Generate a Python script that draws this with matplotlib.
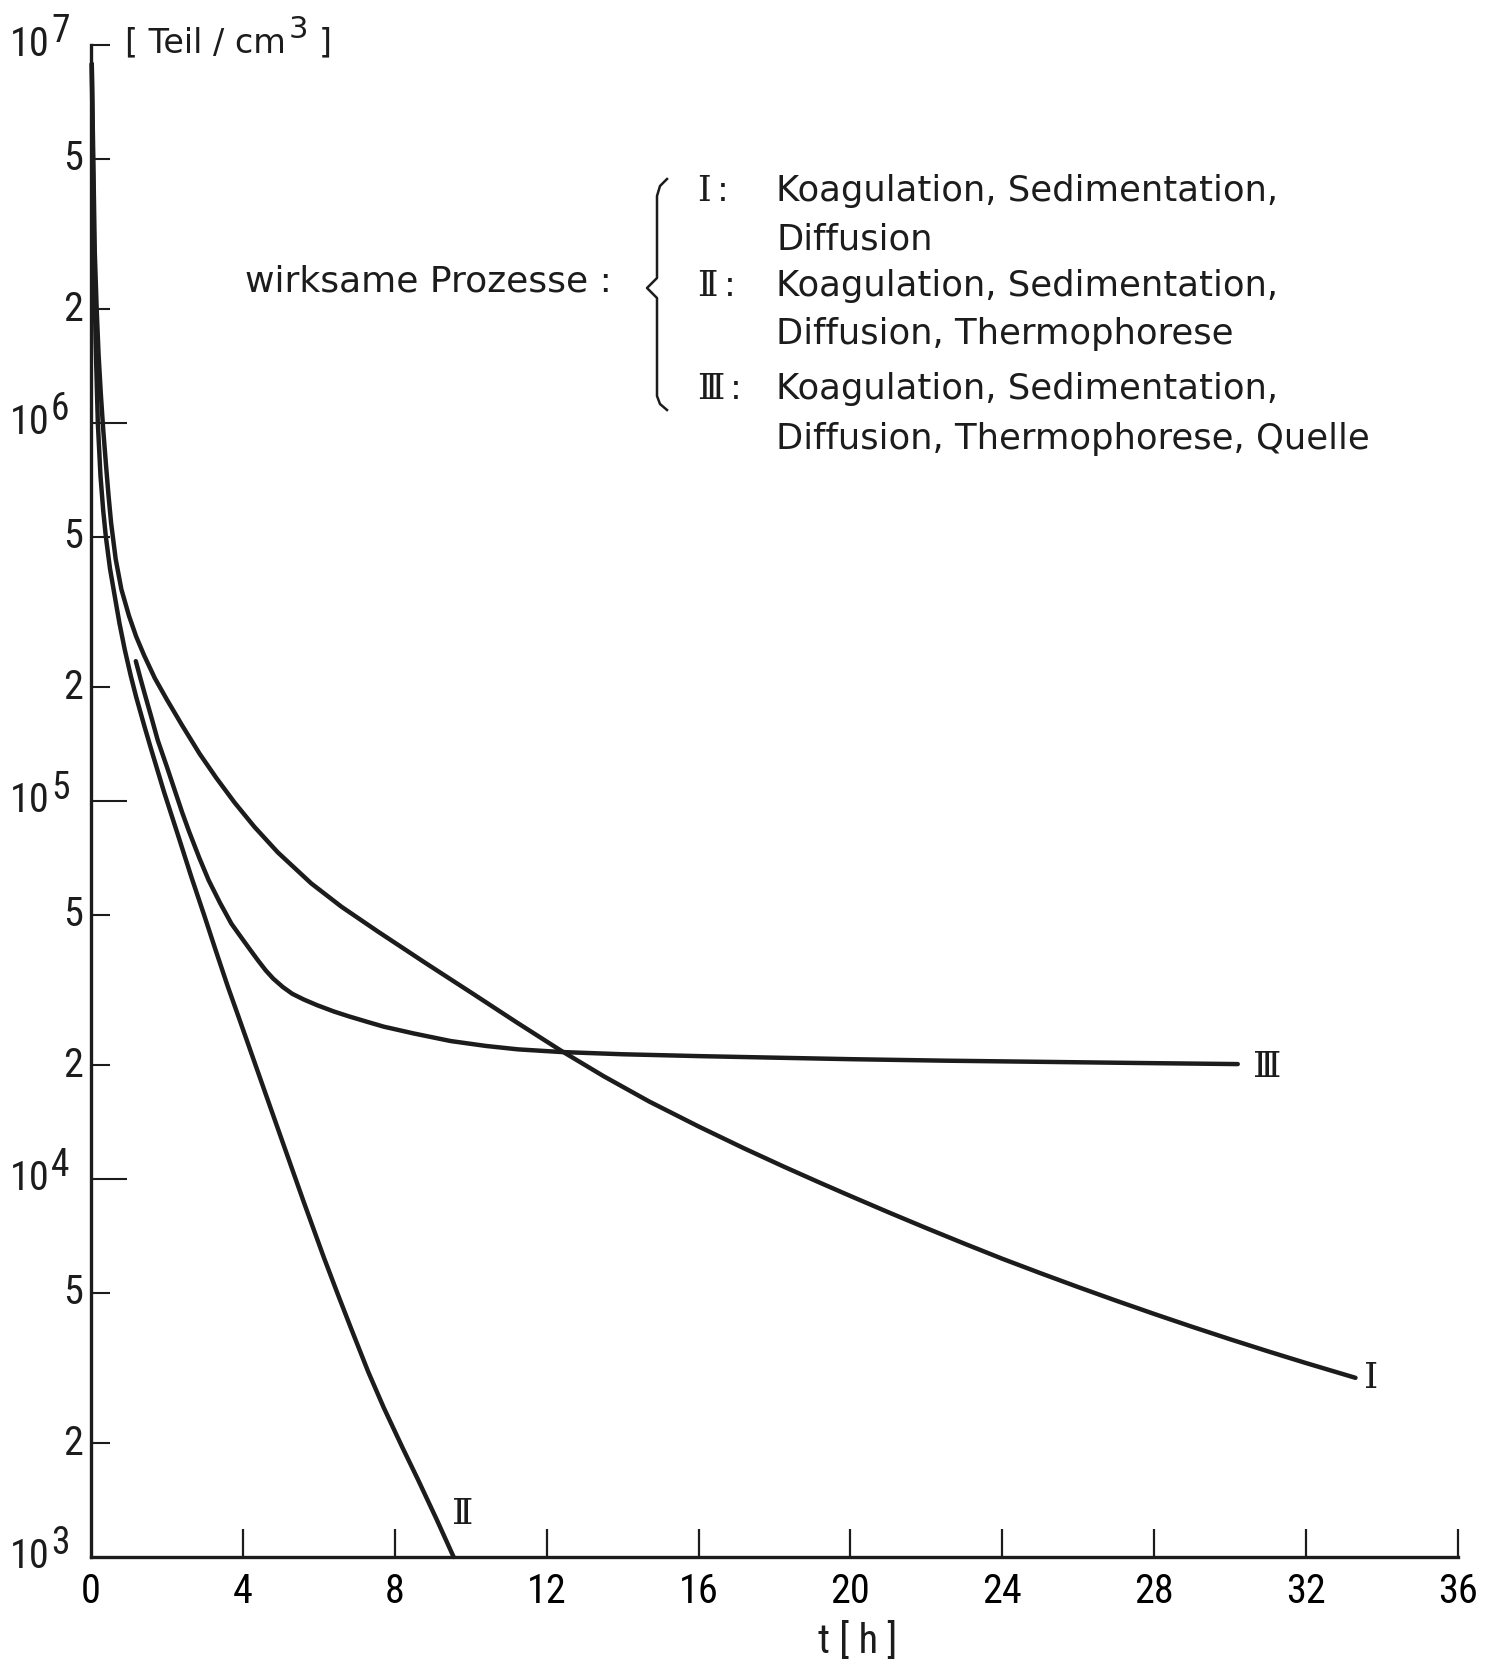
import matplotlib
matplotlib.use("Agg")
import numpy as np
import matplotlib.pyplot as plt
from matplotlib import font_manager as fm
from matplotlib.lines import Line2D
from matplotlib.ticker import FixedLocator, NullFormatter

# Kurve I: Koagulation, Sedimentation, Diffusion   (lg der Teilchenzahl)
t_I = [0.02, 0.06, 0.10, 0.15, 0.20, 0.26, 0.32, 0.39, 0.46, 0.53, 0.65, 0.80, 1.0, 1.19, 1.4,
       1.68, 2.0, 2.4, 2.86, 3.3, 3.78, 4.3, 4.92, 5.8, 6.6, 7.55, 8.8, 10.09, 11.2, 12.37,
       13.5, 14.7, 16.0, 17.2, 18.26, 19.2, 20.0, 21.0, 22.0, 23.0, 24.0, 25.0, 26.0, 27.0,
       28.0, 29.0, 30.0, 31.0, 32.0, 33.3]
lg_I = [6.95, 6.70, 6.45, 6.30, 6.18, 6.075, 5.985, 5.895, 5.81, 5.735, 5.64, 5.56, 5.49, 5.435, 5.385,
        5.325, 5.268, 5.20, 5.125, 5.061, 4.996, 4.932, 4.864, 4.782, 4.72, 4.655, 4.572, 4.488, 4.415, 4.34,
        4.272, 4.205, 4.139, 4.081, 4.032, 3.99, 3.955, 3.912, 3.87, 3.829, 3.789, 3.751, 3.714, 3.678,
        3.643, 3.609, 3.576, 3.544, 3.513, 3.474]

# Kurve II: + Thermophorese
t_II = [0.02, 0.05, 0.08, 0.12, 0.18, 0.25, 0.32, 0.39, 0.5, 0.62, 0.75, 0.89, 1.05, 1.19, 1.4,
        1.59, 1.92, 2.29, 2.64, 2.99, 3.3, 3.6, 3.9, 4.18, 4.61, 5.08, 5.6, 6.13, 6.5, 6.84,
        7.3, 7.71, 8.2, 8.61, 9.1, 9.55]
lg_II = [6.95, 6.70, 6.45, 6.22, 6.0, 5.86, 5.77, 5.70, 5.615, 5.545, 5.47, 5.40, 5.33, 5.275, 5.20,
         5.135, 5.025, 4.91, 4.80, 4.695, 4.60, 4.51, 4.425, 4.345, 4.222, 4.088, 3.94, 3.793, 3.695, 3.607,
         3.49, 3.395, 3.29, 3.205, 3.10, 3.0]

# Kurve III: + Thermophorese, Quelle
t_III = [1.18, 1.3, 1.41, 1.58, 1.76, 2.0, 2.2, 2.4, 2.58, 2.85, 3.1, 3.4, 3.7, 3.95, 4.18,
         4.4, 4.6, 4.8, 5.05, 5.3, 5.6, 5.95, 6.4, 6.8, 7.3, 7.71, 8.5, 9.47, 10.4, 11.24,
         12.37, 14.0, 16.05, 18.0, 20.0, 22.5, 25.0, 27.5, 30.2]
lg_III = [5.37, 5.325, 5.285, 5.225, 5.16, 5.09, 5.03, 4.97, 4.92, 4.85, 4.79, 4.73, 4.675, 4.64, 4.608,
          4.578, 4.552, 4.53, 4.508, 4.49, 4.475, 4.46, 4.443, 4.43, 4.415, 4.403, 4.385, 4.365, 4.352, 4.343,
          4.336, 4.33, 4.325, 4.321, 4.317, 4.313, 4.31, 4.307, 4.304]

x_ticks = [0, 4, 8, 12, 16, 20, 24, 28, 32, 36]
y_decades = [3, 4, 5, 6, 7]
y_minor = [2e3, 5e3, 2e4, 5e4, 2e5, 5e5, 2e6, 5e6]
y_minor_labels = ["2", "5", "2", "5", "2", "5", "2", "5"]

legend_lines = [
    ("Ⅰ", ["Koagulation, Sedimentation,", "Diffusion"]),
    ("Ⅱ", ["Koagulation, Sedimentation,", "Diffusion, Thermophorese"]),
    ("Ⅲ", ["Koagulation, Sedimentation,", "Diffusion, Thermophorese, Quelle"]),
]

plt.rcParams["font.family"] = ["DejaVu Sans"]

# schmale Schrift fuer die Zahlen, falls vorhanden
narrow = None
for want in ["Liberation Sans Narrow", "Roboto Condensed", "DejaVu Sans Condensed", "Open Sans Condensed",
             "Noto Sans Condensed"]:
    for f in fm.fontManager.ttflist:
        base = f.fname.replace("-", " ").replace("_", " ")
        if (f.name == want or want.replace(" ", "") in f.fname.replace("-", "").replace("_", "")) \
                and f.style == "normal" and "Bold" not in base and "Light" not in base:
            narrow = fm.FontProperties(fname=f.fname)
            break
    if narrow is not None:
        break
if narrow is None:
    narrow = fm.FontProperties(family="DejaVu Sans")
    num_size = 25
else:
    num_size = 29

W, H = 1485, 1666
ink = "#1c1c1c"


def fx(px):
    return px / W


def fy(py):
    return 1 - py / H


fig = plt.figure(figsize=(W / 100, H / 100), dpi=100)
ax = fig.add_axes([fx(91), fy(1557), 1367 / W, 1512 / H])

for t, lg in [(t_I, lg_I), (t_II, lg_II), (t_III, lg_III)]:
    ax.plot(t, 10.0 ** np.array(lg), color=ink, lw=3.2, solid_capstyle="round",
            solid_joinstyle="round", clip_on=False)

ax.set_yscale("log")
ax.set_xlim(0, 36)
ax.set_ylim(1e3, 1e7)

for s in ["top", "right"]:
    ax.spines[s].set_visible(False)
for s in ["left", "bottom"]:
    ax.spines[s].set_linewidth(2.4)
    ax.spines[s].set_color(ink)

ax.set_xticks(x_ticks)
ax.set_xticklabels([str(v) for v in x_ticks], fontproperties=narrow, fontsize=num_size)
ax.tick_params(axis="x", direction="in", length=20, width=1.6, pad=11, color=ink)
ax.xaxis.get_major_ticks()[0].tick1line.set_visible(False)

ax.yaxis.set_major_locator(FixedLocator([1e4, 1e5, 1e6]))
ax.yaxis.set_minor_locator(FixedLocator(y_minor + [1e7]))
ax.yaxis.set_major_formatter(NullFormatter())
ax.yaxis.set_minor_formatter(NullFormatter())
ax.tick_params(axis="y", which="major", direction="in", length=26, width=1.5, color=ink)
ax.tick_params(axis="y", which="minor", direction="in", length=14, width=1.5, color=ink)

r = fig.canvas.get_renderer()
ytr = ax.get_yaxis_transform()
for e in y_decades:
    ten = ax.text(-0.030, 10.0 ** e, "10", transform=ytr, ha="right", va="center",
                  fontproperties=narrow, fontsize=num_size, color=ink)
    bb = ten.get_window_extent(r)
    yc = (bb.y0 + bb.y1) / 2
    fig.text((bb.x1 + 1) / W, (yc + 13) / H, str(e), ha="left", va="center",
             fontproperties=narrow, fontsize=num_size - 2, color=ink)
for v, lab in zip(y_minor, y_minor_labels):
    ax.text(-0.006, v, lab, transform=ytr, ha="right", va="center",
            fontproperties=narrow, fontsize=num_size, color=ink)

# Einheit oben an der y-Achse
u1 = fig.text(fx(125), fy(43), "[ Teil / cm", fontsize=24, va="center", ha="left", color=ink)
bb = u1.get_window_extent(r)
u2 = fig.text((bb.x1 + 3) / W, fy(29), "3", fontsize=22, va="center", ha="left", color=ink)
bb2 = u2.get_window_extent(r)
fig.text((bb2.x1 + 10) / W, fy(43), "]", fontsize=24, va="center", ha="left", color=ink)

ax.text(0.561, -0.0556, "t [ h ]", transform=ax.transAxes, ha="center", va="center",
        fontproperties=narrow, fontsize=num_size, color=ink)

# Kurvenbeschriftung
roman = ["DejaVu Serif", "DejaVu Sans"]
ax.annotate("Ⅰ", (t_I[-1], 10 ** lg_I[-1]), xytext=(16, 0), textcoords="offset pixels",
            ha="center", va="center", fontsize=26, family=roman, color=ink)
ax.annotate("Ⅲ", (t_III[-1], 10 ** lg_III[-1]), xytext=(29, -3), textcoords="offset pixels",
            ha="center", va="center", fontsize=26, family=roman, color=ink)
ax.annotate("Ⅱ", (t_II[-1], 10 ** lg_II[-1]), xytext=(9, 43), textcoords="offset pixels",
            ha="center", va="center", fontsize=26, family=roman, color=ink)

# Legende
fig.text(fx(245), fy(281), "wirksame Prozesse :", fontsize=26, va="center", ha="left", color=ink)
brace_x = [667, 660, 657, 657, 647, 657, 657, 660, 667]
brace_y = [179, 186, 196, 278, 288, 298, 396, 404, 410]
fig.add_artist(Line2D([fx(v) for v in brace_x], [fy(v) for v in brace_y],
                      transform=fig.transFigure, color=ink, lw=1.8, solid_joinstyle="round"))

row_y = [191, 239, 286, 334, 389, 439]
for i, (num, lines) in enumerate(legend_lines):
    y0 = row_y[2 * i]
    nt = fig.text(fx(697), fy(y0), num, fontsize=25, family=roman, va="center", ha="left", color=ink)
    nb = nt.get_window_extent(r)
    fig.text((nb.x1 + 6) / W, fy(y0), ":", fontsize=25, va="center", ha="left", color=ink)
    for j, txt in enumerate(lines):
        fig.text(fx(776), fy(row_y[2 * i + j]), txt, fontsize=25.5, va="center", ha="left", color=ink)

fig.savefig("out.png", dpi=100, facecolor="white")
